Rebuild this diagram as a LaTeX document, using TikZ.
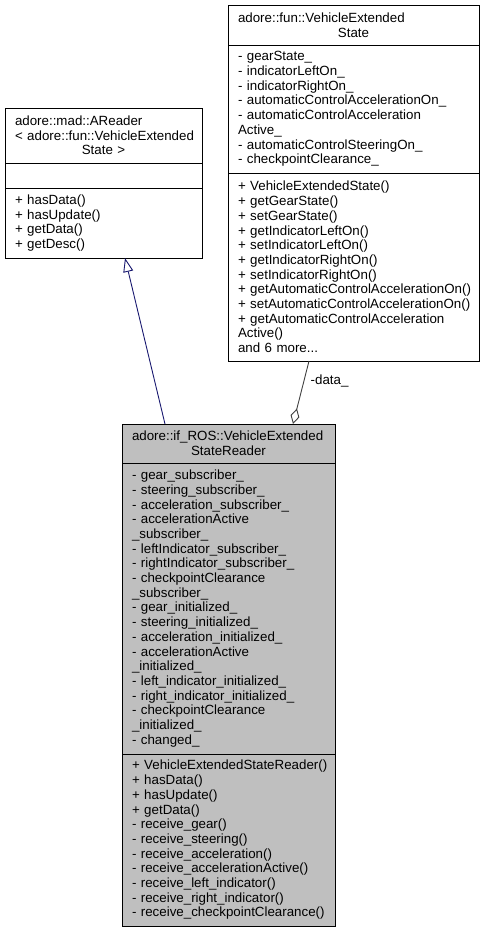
\documentclass[tikz,border=0pt]{standalone}
\usepackage{fontspec}
\setmainfont{Liberation Sans}
\usetikzlibrary{positioning,arrows.meta}
\definecolor{inheritBlue}{HTML}{191970}
\definecolor{edgeGray}{HTML}{404040}
\definecolor{classGray}{HTML}{BFBFBF}
\newcommand\ctrline[1]{\hbox to\hsize{\hfil#1\hfil}}
\newcommand\umlfont{\fontsize{13.33}{14.7}\selectfont\hyphenpenalty=10000\exhyphenpenalty=10000\hbadness=10000}
\tikzset{
    umlpart/.style={draw=black,fill=white,line width=0.9pt,inner xsep=10pt,inner ysep=0pt,
        outer sep=0pt,anchor=north,align=left,font=\umlfont},
    umlgray/.style={umlpart,fill=classGray},
    inheritarrow/.style={draw=inheritBlue,line width=0.9pt,
        -{Triangle[open,length=14pt,width=10pt,fill=white]}},
    aggarrow/.style={draw=edgeGray,line width=0.9pt,
        -{Diamond[open,length=16pt,width=9pt,fill=white]}}
}
\begin{document}
\begin{tikzpicture}[x=1pt,y=1pt]
    \useasboundingbox (0,0) rectangle (485,-932);
    \node[umlpart,text width=177pt,minimum height=55pt] (arTitle) at (103.5,-108)
        {adore::mad::AReader\\<~adore::fun::VehicleExtended\\\ctrline{State~>}};
    \node[umlpart,text width=177pt,minimum height=25pt] (arAttr) [below=0pt of arTitle] {};
    \node[umlpart,text width=177pt,minimum height=70pt] (arMeth) [below=0pt of arAttr]
        {+~hasData()\\+~hasUpdate()\\+~getData()\\+~getDesc()};
    \node[umlpart,text width=231pt,minimum height=40pt] (vesTitle) at (353.5,-5)
        {adore::fun::VehicleExtended\\\ctrline{State}};
    \node[umlpart,text width=231pt,minimum height=128pt] (vesAttr) [below=0pt of vesTitle]
        {-~gearState\_\\-~indicatorLeftOn\_\\-~indicatorRightOn\_\\-~automaticControlAccelerationOn\_\\
        -~automaticControlAcceleration\\Active\_\\-~automaticControlSteeringOn\_\\-~checkpointClearance\_};
    \node[umlpart,text width=231pt,minimum height=188pt] (vesMeth) [below=0pt of vesAttr]
        {+~VehicleExtendedState()\\+~getGearState()\\+~setGearState()\\+~getIndicatorLeftOn()\\
        +~setIndicatorLeftOn()\\+~getIndicatorRightOn()\\+~setIndicatorRightOn()\\
        +~getAutomaticControlAccelerationOn()\\+~setAutomaticControlAccelerationOn()\\
        +~getAutomaticControlAcceleration\\Active()\\and~6~more...};
    \node[umlgray,text width=193pt,minimum height=39pt] (rdTitle) at (228.5,-424)
        {adore::if\_ROS::VehicleExtended\\\ctrline{StateReader}};
    \node[umlgray,text width=193pt,minimum height=291pt] (rdAttr) [below=0pt of rdTitle]
        {-~gear\_subscriber\_\\-~steering\_subscriber\_\\-~acceleration\_subscriber\_\\
        -~accelerationActive\\\_subscriber\_\\-~leftIndicator\_subscriber\_\\
        -~rightIndicator\_subscriber\_\\-~checkpointClearance\\\_subscriber\_\\
        -~gear\_initialized\_\\-~steering\_initialized\_\\-~acceleration\_initialized\_\\
        -~accelerationActive\\\_initialized\_\\-~left\_indicator\_initialized\_\\
        -~right\_indicator\_initialized\_\\-~checkpointClearance\\\_initialized\_\\-~changed\_};
    \node[umlgray,text width=193pt,minimum height=172pt] (rdMeth) [below=0pt of rdAttr]
        {+~VehicleExtendedStateReader()\\+~hasData()\\+~hasUpdate()\\+~getData()\\
        -~receive\_gear()\\-~receive\_steering()\\-~receive\_acceleration()\\
        -~receive\_accelerationActive()\\-~receive\_left\_indicator()\\
        -~receive\_right\_indicator()\\-~receive\_checkpointClearance()};
    \draw[inheritarrow] ([xshift=-63.5pt]rdTitle.north) -- ([xshift=21.5pt]arMeth.south);
    \draw[aggarrow] ([xshift=-44.5pt]vesMeth.south) -- ([xshift=64.5pt]rdTitle.north)
        node[pos=0.32,anchor=west,xshift=3pt,font=\umlfont] (dataLabel) {-data\_};
\end{tikzpicture}
\end{document}
